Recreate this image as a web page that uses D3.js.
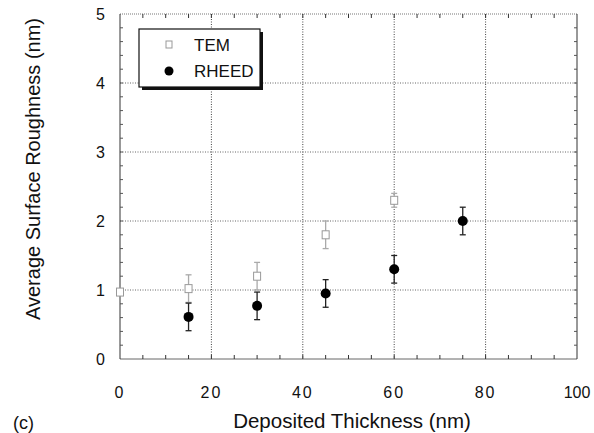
<!DOCTYPE html>
<html>
<head>
<meta charset="utf-8">
<script src="https://cdn.jsdelivr.net/npm/d3@7"></script>
<style>
  body { margin: 0; background: #fff; }
  text { font-family: "Liberation Sans", Arial, sans-serif; fill: #111; }
</style>
</head>
<body>
<div id="chart"></div>
<script>
// data
var temX = [0, 15, 30, 45, 60];
var temY = [0.97, 1.02, 1.2, 1.8, 2.3];
var temErr = [0, 0.2, 0.2, 0.2, 0.1];

var rheedX = [15, 30, 45, 60, 75];
var rheedY = [0.61, 0.77, 0.95, 1.3, 2.0];
var rheedErr = [0.2, 0.2, 0.2, 0.2, 0.2];

var xTicks = [0, 20, 40, 60, 80, 100];
var yTicks = [0, 1, 2, 3, 4, 5];

var svgWidth = 594;
var svgHeight = 433;
var margin = {top: 14, right: 17, bottom: 74, left: 120};
var chartWidth = svgWidth - margin.left - margin.right;
var chartHeight = svgHeight - margin.top - margin.bottom;

var svg = d3.select("#chart")
    .append("svg")
    .attr("width", svgWidth)
    .attr("height", svgHeight);

var g = svg.append("g")
    .attr("transform", `translate(${margin.left}, ${margin.top})`);

var x = d3.scaleLinear().domain([0, 100]).range([0, chartWidth]);
var y = d3.scaleLinear().domain([0, 5]).range([chartHeight, 0]);

// gridlines
g.selectAll(".vgrid")
    .data(xTicks.filter(d => d > 0 && d < 100))
    .enter().append("line")
    .attr("x1", d => x(d)).attr("x2", d => x(d))
    .attr("y1", 0).attr("y2", chartHeight)
    .attr("stroke", "#444")
    .attr("stroke-width", 1)
    .attr("stroke-dasharray", "1,1.5");

g.selectAll(".hgrid")
    .data(yTicks.filter(d => d > 0 && d < 5))
    .enter().append("line")
    .attr("x1", 0).attr("x2", chartWidth)
    .attr("y1", d => y(d)).attr("y2", d => y(d))
    .attr("stroke", "#666")
    .attr("stroke-width", 1)
    .attr("stroke-dasharray", "1,1.5");

// frame
g.append("line").attr("x1", 0).attr("x2", chartWidth).attr("y1", 0).attr("y2", 0)
    .attr("stroke", "#777").attr("stroke-dasharray", "1,1");
g.append("line").attr("x1", 0).attr("x2", chartWidth).attr("y1", chartHeight).attr("y2", chartHeight)
    .attr("stroke", "#666");
g.append("line").attr("x1", 0).attr("x2", 0).attr("y1", 0).attr("y2", chartHeight)
    .attr("stroke", "#333");
g.append("line").attr("x1", chartWidth).attr("x2", chartWidth).attr("y1", 0).attr("y2", chartHeight)
    .attr("stroke", "#333");

// minor ticks (inward on all four sides)
var xMinor = d3.range(5, 100, 5);
var yMinor = d3.range(0.2, 5, 0.2);

g.selectAll(".xtb").data(xMinor).enter().append("line")
    .attr("x1", d => x(d)).attr("x2", d => x(d))
    .attr("y1", chartHeight).attr("y2", chartHeight - 4)
    .attr("stroke", "#333");
g.selectAll(".xtt").data(xMinor).enter().append("line")
    .attr("x1", d => x(d)).attr("x2", d => x(d))
    .attr("y1", 0).attr("y2", 4)
    .attr("stroke", "#333");
g.selectAll(".ytl").data(yMinor).enter().append("line")
    .attr("x1", 0).attr("x2", 3)
    .attr("y1", d => y(d)).attr("y2", d => y(d))
    .attr("stroke", "#555");
g.selectAll(".ytr").data(yMinor).enter().append("line")
    .attr("x1", chartWidth).attr("x2", chartWidth - 3)
    .attr("y1", d => y(d)).attr("y2", d => y(d))
    .attr("stroke", "#555");

// tick labels
g.selectAll(".xlab").data(xTicks).enter().append("text")
    .attr("x", d => x(d))
    .attr("y", chartHeight + 39)
    .attr("text-anchor", "middle")
    .attr("font-size", "16px")
    .attr("letter-spacing", d => d < 100 ? "2px" : "0px")
    .text(d => d);

g.selectAll(".ylab").data(yTicks).enter().append("text")
    .attr("x", -15)
    .attr("y", d => y(d))
    .attr("dy", "0.4em")
    .attr("text-anchor", "end")
    .attr("font-size", "16px")
    .text(d => d);

// axis titles
svg.append("text")
    .attr("transform", "rotate(-90)")
    .attr("x", -169)
    .attr("y", 40)
    .attr("text-anchor", "middle")
    .attr("font-size", "20px")
    .text("Average Surface Roughness (nm)");

svg.append("text")
    .attr("x", 352)
    .attr("y", 428)
    .attr("text-anchor", "middle")
    .attr("font-size", "20.5px")
    .text("Deposited Thickness (nm)");

svg.append("text")
    .attr("x", 13)
    .attr("y", 429)
    .attr("font-size", "18px")
    .text("(c)");

// error bars
function errorBars(xs, ys, es, colour) {
    var pts = xs.map((d, i) => ({x: d, y: ys[i], e: es[i]})).filter(d => d.e > 0);
    var eg = g.append("g").attr("stroke", colour).attr("stroke-width", 1.3);
    eg.selectAll(".v").data(pts).enter().append("line")
        .attr("x1", d => x(d.x)).attr("x2", d => x(d.x))
        .attr("y1", d => y(d.y - d.e)).attr("y2", d => y(d.y + d.e));
    eg.selectAll(".t").data(pts).enter().append("line")
        .attr("x1", d => x(d.x) - 3).attr("x2", d => x(d.x) + 3)
        .attr("y1", d => y(d.y + d.e)).attr("y2", d => y(d.y + d.e));
    eg.selectAll(".b").data(pts).enter().append("line")
        .attr("x1", d => x(d.x) - 3).attr("x2", d => x(d.x) + 3)
        .attr("y1", d => y(d.y - d.e)).attr("y2", d => y(d.y - d.e));
}

errorBars(temX, temY, temErr, "#aaa");
errorBars(rheedX, rheedY, rheedErr, "#222");

// TEM open squares
g.selectAll(".tem").data(temX).enter().append("rect")
    .attr("x", d => x(d) - 3.5)
    .attr("y", (d, i) => y(temY[i]) - 4)
    .attr("width", 7)
    .attr("height", 8)
    .attr("fill", "#fff")
    .attr("stroke", "#999")
    .attr("stroke-width", 1);

// RHEED filled circles
g.selectAll(".rheed").data(rheedX).enter().append("circle")
    .attr("cx", d => x(d))
    .attr("cy", (d, i) => y(rheedY[i]))
    .attr("r", 5)
    .attr("fill", "#000");

// legend with drop shadow
var leg = svg.append("g").attr("transform", "translate(139, 29)");
leg.append("rect").attr("x", 3).attr("y", 3).attr("width", 121).attr("height", 58).attr("fill", "#111");
leg.append("rect").attr("x", 0).attr("y", 0).attr("width", 121).attr("height", 58)
    .attr("fill", "#fff").attr("stroke", "#111").attr("stroke-width", 1.2);
leg.append("rect").attr("x", 27).attr("y", 12).attr("width", 6).attr("height", 7)
    .attr("fill", "#fff").attr("stroke", "#999");
leg.append("circle").attr("cx", 30).attr("cy", 42).attr("r", 4.5).attr("fill", "#000");
leg.append("text").attr("x", 55).attr("y", 16).attr("dy", "0.35em")
    .attr("font-size", "17px").text("TEM");
leg.append("text").attr("x", 55).attr("y", 42).attr("dy", "0.35em")
    .attr("font-size", "17px").text("RHEED");
</script>
</body>
</html>
